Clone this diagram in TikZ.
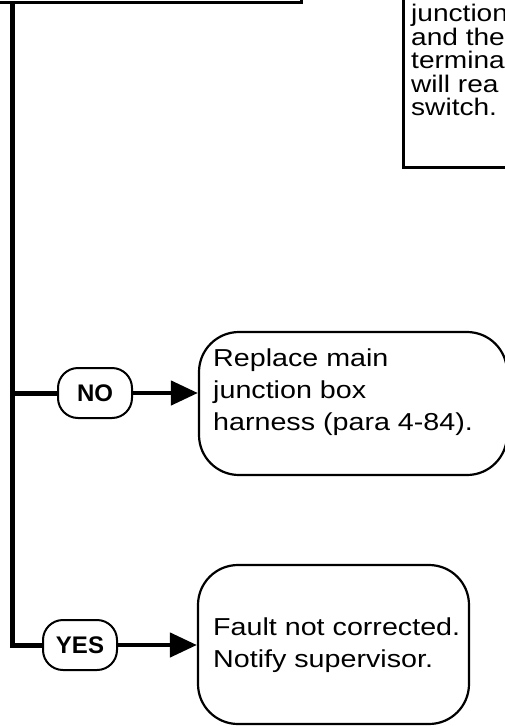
\documentclass[tikz,border=0pt]{standalone}
\usepackage{fontspec}
\newfontfamily\lab{Liberation Sans}[FakeStretch=1.17]
\newfontfamily\labb{Liberation Sans}
\usetikzlibrary{arrows.meta}
\tikzset{
  outline/.style={draw, line width=2.5pt, inner sep=0pt},
  endbox/.style={draw, line width=2.2pt, rounded corners=40pt, inner sep=0pt},
  pill/.style={draw, line width=2pt, rounded corners=20pt, minimum width=74pt,
    minimum height=50pt, inner sep=0pt, font=\labb\fontsize{24}{24}\selectfont\bfseries},
  trunk/.style={line width=5pt},
  arr/.style={line width=4.5pt, -{Triangle[length=27pt,width=24pt]}},
  bigtxt/.style={align=left, anchor=north west, inner sep=0pt,
    font=\lab\fontsize{24.5}{32}\selectfont},
  smalltxt/.style={align=left, anchor=north west, inner sep=0pt,
    font=\lab\fontsize{24}{23.5}\selectfont},
}
\begin{document}
\begin{tikzpicture}[x=1pt,y=-1pt]
\useasboundingbox (0,0) rectangle (505,726);
\clip (0,0) rectangle (505,726);
% clipped boxes at the top
\node[outline, minimum width=330pt, minimum height=100pt, anchor=south west] (topbox) at (-30,3.7) {};
\node[outline, line width=3pt, minimum width=200pt, minimum height=200pt, anchor=south west] (notebox) at (402,169) {};
\node[smalltxt] (notetxt) at (411,4) {junction\\and the\\termina\\will rea\\switch.};
% end boxes
\node[endbox, minimum width=308pt, minimum height=143pt] (replace) at (353,403.5) {};
\node[bigtxt] (replacetxt) at (213,349) {Replace main\\junction box\\harness (para 4-84).};
\node[endbox, minimum width=271pt, minimum height=159pt] (fault) at (333.5,644.5) {};
\node[bigtxt] (faulttxt) at (213,618) {Fault not corrected.\\Notify supervisor.};
% decision labels
\node[pill] (no) at (95,393) {NO};
\node[pill] (yes) at (80,645) {YES};
% connectors
\coordinate (top) at (12.5,3.7);
\draw[trunk] (top) -- (top |- yes.west) -- (yes.west);
\draw[trunk] (top |- no.west) -- (no.west);
\draw[arr] (no.east) -- (no.east -| replace.west);
\draw[arr] (yes.east) -- (yes.east -| fault.west);
\end{tikzpicture}
\end{document}
